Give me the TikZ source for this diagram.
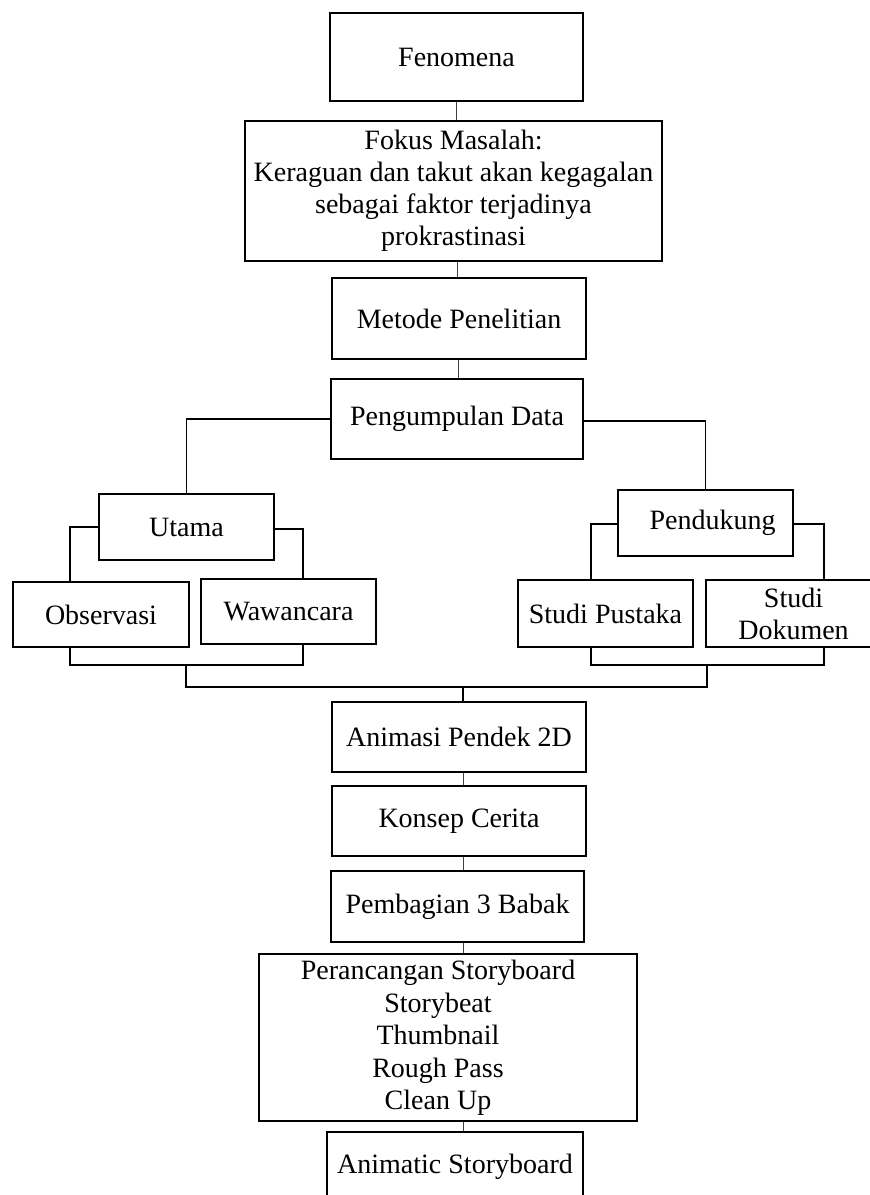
\documentclass[tikz,border=0pt]{standalone}
\usepackage{fontspec}
\setmainfont{Liberation Serif}
\begin{document}
\begin{tikzpicture}[x=1pt,y=-1pt]
\tikzset{
 box/.style={draw, line width=2pt, rectangle, align=center, inner sep=0pt, font=\fontsize{28}{32}\selectfont},
 txt/.style={align=center, inner sep=0pt, font=\fontsize{28}{32.5}\selectfont},
 link/.style={line width=1pt, draw=black!75},
 brk/.style={line width=1.5pt}
}
\useasboundingbox (0,0) rectangle (870,1195);
\fill[white] (0,0) rectangle (870,1195);
% top chain
\node[box, minimum width=253pt, minimum height=88pt] (fen) at (456.5,57) {Fenomena};
\node[box, minimum width=417pt, minimum height=140pt] (fokus) at (453.5,191) {Fokus Masalah:\\ Keraguan dan takut akan kegagalan\\ sebagai faktor terjadinya\\ prokrastinasi};
\node[box, minimum width=254pt, minimum height=81pt] (metode) at (459,318.5) {Metode Penelitian};
\node[box, minimum width=252pt, minimum height=80pt] (pengumpulan) at (457,419) {\raisebox{-3pt}{Pengumpulan Data}};
% branches
\node[box, minimum width=175pt, minimum height=66pt] (utama) at (186.5,527) {Utama};
\node[box, minimum width=176pt, minimum height=65pt] (obs) at (101,614.5) {Observasi};
\node[box, minimum width=175pt, minimum height=65pt] (waw) at (288.5,611.5) {\raisebox{-3pt}{Wawancara}};
\node[box, minimum width=175pt, minimum height=66pt] (pend) at (705.5,523) {\hspace*{14pt}Pendukung};
\node[box, minimum width=175pt, minimum height=67pt] (pustaka) at (605.5,613.5) {Studi Pustaka};
\node[box, minimum width=175pt, minimum height=67pt] (dokumen) at (793.5,613.5) {Studi\\ Dokumen};
% bottom chain
\node[box, minimum width=254pt, minimum height=70pt] (animasi) at (459,737) {Animasi Pendek 2D};
\node[box, minimum width=254pt, minimum height=70pt] (konsep) at (459,821) {Konsep Cerita};
\node[box, minimum width=253pt, minimum height=71pt] (pembagian) at (457.5,906.5) {Pembagian 3 Babak};
\node[box, minimum width=378pt, minimum height=167pt] (peranc) at (448,1037.5) {};
\node[txt] (peranctext) at (438,1038) {Perancangan Storyboard\\ Storybeat\\ Thumbnail\\ Rough Pass\\ Clean Up};
\node[box, minimum width=256pt, minimum height=70pt] (animatic) at (455,1167) {Animatic Storyboard};
% coordinates for brackets
\coordinate (lb) at (186,665);
\coordinate (rb) at (707,665);
\coordinate (jl) at (186,687);
\coordinate (jr) at (707,687);
\coordinate (jm) at (463,687);
% top links
\draw[link] (fen.south) -- (fen.south |- fokus.north);
\draw[link] ([xshift=4pt]fokus.south) -- ([xshift=4pt]fokus.south |- metode.north);
\draw[link] ([xshift=-1pt]metode.south) -- ([xshift=-1pt]metode.south |- pengumpulan.north);
% pengumpulan branches
\draw[brk] (pengumpulan.west) -| (utama.north);
\draw[brk] ([yshift=-2pt]pengumpulan.east) -| (pend.north);
\draw[brk] (utama.west) -| ([xshift=-31pt]obs.north);
\draw[brk] ([yshift=-2pt]utama.east) -| ([xshift=14.5pt]waw.north);
\draw[brk] ([yshift=-1pt]pend.west) -| ([xshift=-14.5pt]pustaka.north);
\draw[brk] ([yshift=-1pt]pend.east) -| ([xshift=30.5pt]dokumen.north);
% lower brackets
\draw[brk] ([xshift=-31pt]obs.south) |- (lb) -| ([xshift=14.5pt]waw.south);
\draw[brk] ([xshift=-14.5pt]pustaka.south) |- (rb) -| ([xshift=30.5pt]dokumen.south);
\draw[brk] (lb) -- (jl) -- (jr) -- (rb);
\draw[brk] (jm) -- (jm |- animasi.north);
% bottom links
\draw[link] ([xshift=4pt]animasi.south) -- ([xshift=4pt]animasi.south |- konsep.north);
\draw[link] ([xshift=5.5pt]pembagian.north |- konsep.south) -- ([xshift=5.5pt]pembagian.north);
\draw[link] ([xshift=5.5pt]pembagian.south) -- ([xshift=5.5pt]pembagian.south |- peranc.north);
\draw[link] ([xshift=15pt]peranc.south) -- ([xshift=15pt]peranc.south |- animatic.north);
\end{tikzpicture}
\end{document}
